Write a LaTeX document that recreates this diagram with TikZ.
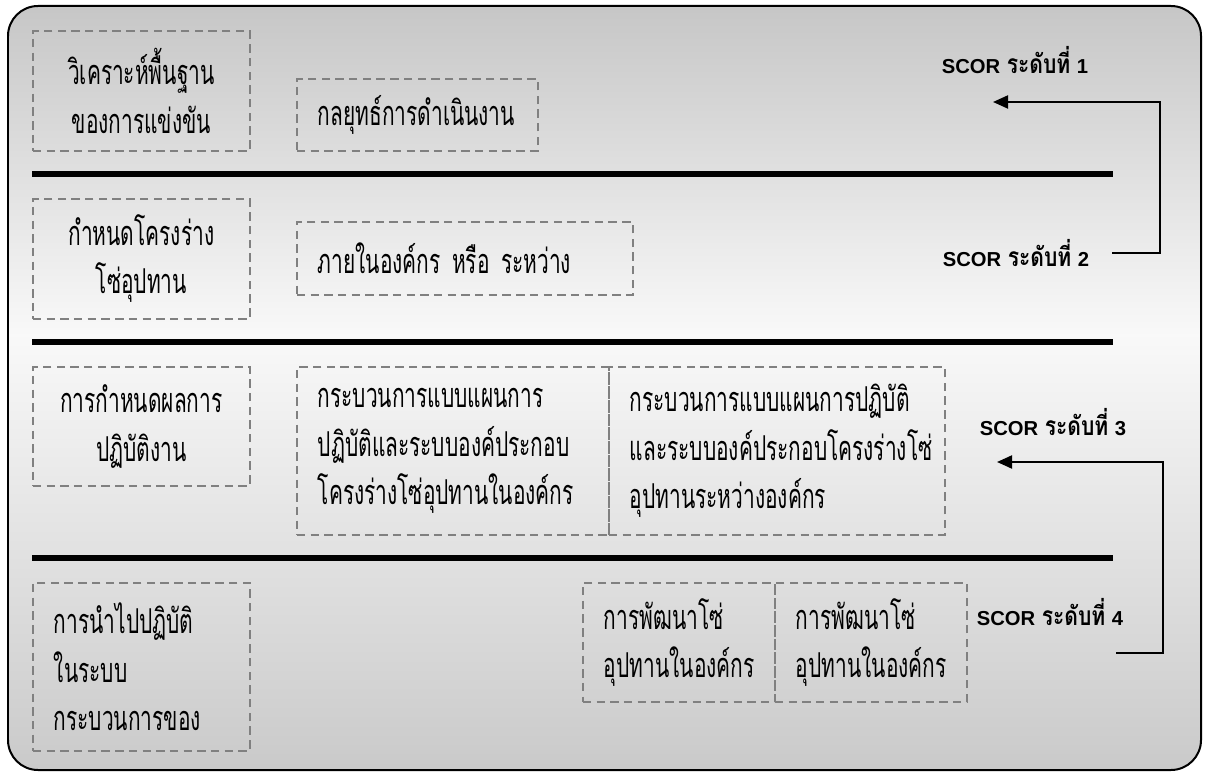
\documentclass[tikz,border=0pt]{standalone}
\usepackage{fontspec}
\setsansfont{Liberation Sans}
\newfontfamily\thaifont[Script=Thai, FakeStretch=0.61]{Loma}
\newfontfamily\thaibold[Script=Thai, FakeStretch=0.8]{Loma}
\usetikzlibrary{arrows.meta}
\lineskiplimit=-20pt
\newcommand{\scorlevel}[1]{{\sffamily\bfseries SCOR} {\thaibold\bfseries\fontsize{15}{15}\selectfont ระดับที่} {\sffamily\bfseries #1}}

\begin{document}
\begin{tikzpicture}[x=0.02cm, y=-0.02cm,
    cell/.style={draw=gray, dash pattern=on 4.8pt off 3pt, line width=1pt,
        anchor=north west, inner xsep=0.42cm, inner ysep=0pt,
        font=\thaifont\fontsize{19.5}{27.5}\selectfont},
    level/.style={inner sep=0pt, font=\fontsize{11.5}{12}\selectfont},
    divider/.style={line width=0.12cm},
    flow/.style={line width=0.04cm, -{Triangle[length=0.3cm, width=0.26cm]}}
]
    \useasboundingbox (0,0) rectangle (1207,773);
    % background panel
    \begin{scope}
        \clip[rounded corners=0.6cm] (8,6) rectangle (1201,770);
        \shade[top color=gray!45, bottom color=gray!5] (0,0) rectangle (1207,335);
        \shade[top color=gray!5, bottom color=gray!42] (0,335) rectangle (1207,773);
    \end{scope}
    \draw[line width=0.04cm, rounded corners=0.6cm] (8,6) rectangle (1201,770);

    % level 1
    \node[cell, align=center, text width=3.5cm, minimum height=2.4cm] (analysis) at (32,30) {วิเคราะห์พื้นฐาน\\ของการแข่งขัน};
    \node[cell, align=left, text width=3.98cm, minimum height=1.44cm] (strategy) at (296,78) {กลยุทธ์การดำเนินงาน};
    \draw[divider] (32,174) -- (1113,174);

    % level 2
    \node[cell, align=center, text width=3.5cm, minimum height=2.4cm] (config) at (32,198) {กำหนดโครงร่าง\\โซ่อุปทาน};
    \node[cell, align=left, text width=5.88cm, minimum height=1.46cm] (scope) at (296,221) {ภายในองค์กร หรือ ระหว่าง};
    \draw[divider] (32,342) -- (1113,342);

    % level 3
    \node[cell, align=center, text width=3.5cm, minimum height=2.38cm] (perform) at (32,366) {การกำหนดผลการ\\ปฏิบัติงาน};
    \node[cell, align=left, text width=5.4cm, minimum height=3.36cm] (inner) at (296,366) {กระบวนการแบบแผนการ\\ปฏิบัติและระบบองค์ประกอบ\\โครงร่างโซ่อุปทานในองค์กร};
    \node[cell, align=left, text width=5.88cm, minimum height=3.36cm] (outer) at (608,366) {กระบวนการแบบแผนการปฏิบัติ\\และระบบองค์ประกอบโครงร่างโซ่\\อุปทานระหว่างองค์กร};
    \draw[divider] (32,558) -- (1113,558);

    % level 4
    \node[cell, align=left, text width=3.5cm, minimum height=3.36cm] (apply) at (32,582) {การนำไปปฏิบัติ\\ในระบบ\\กระบวนการของ};
    \node[cell, align=left, text width=3cm, minimum height=2.38cm] (devA) at (582,582) {การพัฒนาโซ่\\อุปทานในองค์กร};
    \node[cell, align=left, text width=3cm, minimum height=2.38cm] (devB) at (774,582) {การพัฒนาโซ่\\อุปทานในองค์กร};

    % SCOR levels
    \node[level] (lvl1) at (1015,60) {\scorlevel{1}};
    \node[level] (lvl2) at (1016,253) {\scorlevel{2}};
    \node[level] (lvl3) at (1053,422) {\scorlevel{3}};
    \node[level] (lvl4) at (1050,612) {\scorlevel{4}};

    \coordinate (from2) at (1112,253);
    \coordinate (tip1) at (993,102);
    \coordinate (from4) at (1116,653);
    \coordinate (tip3) at (997,462);
    \draw[flow] (from2) -- ++(48,0) |- (tip1);
    \draw[flow] (from4) -- ++(47,0) |- (tip3);
\end{tikzpicture}
\end{document}
